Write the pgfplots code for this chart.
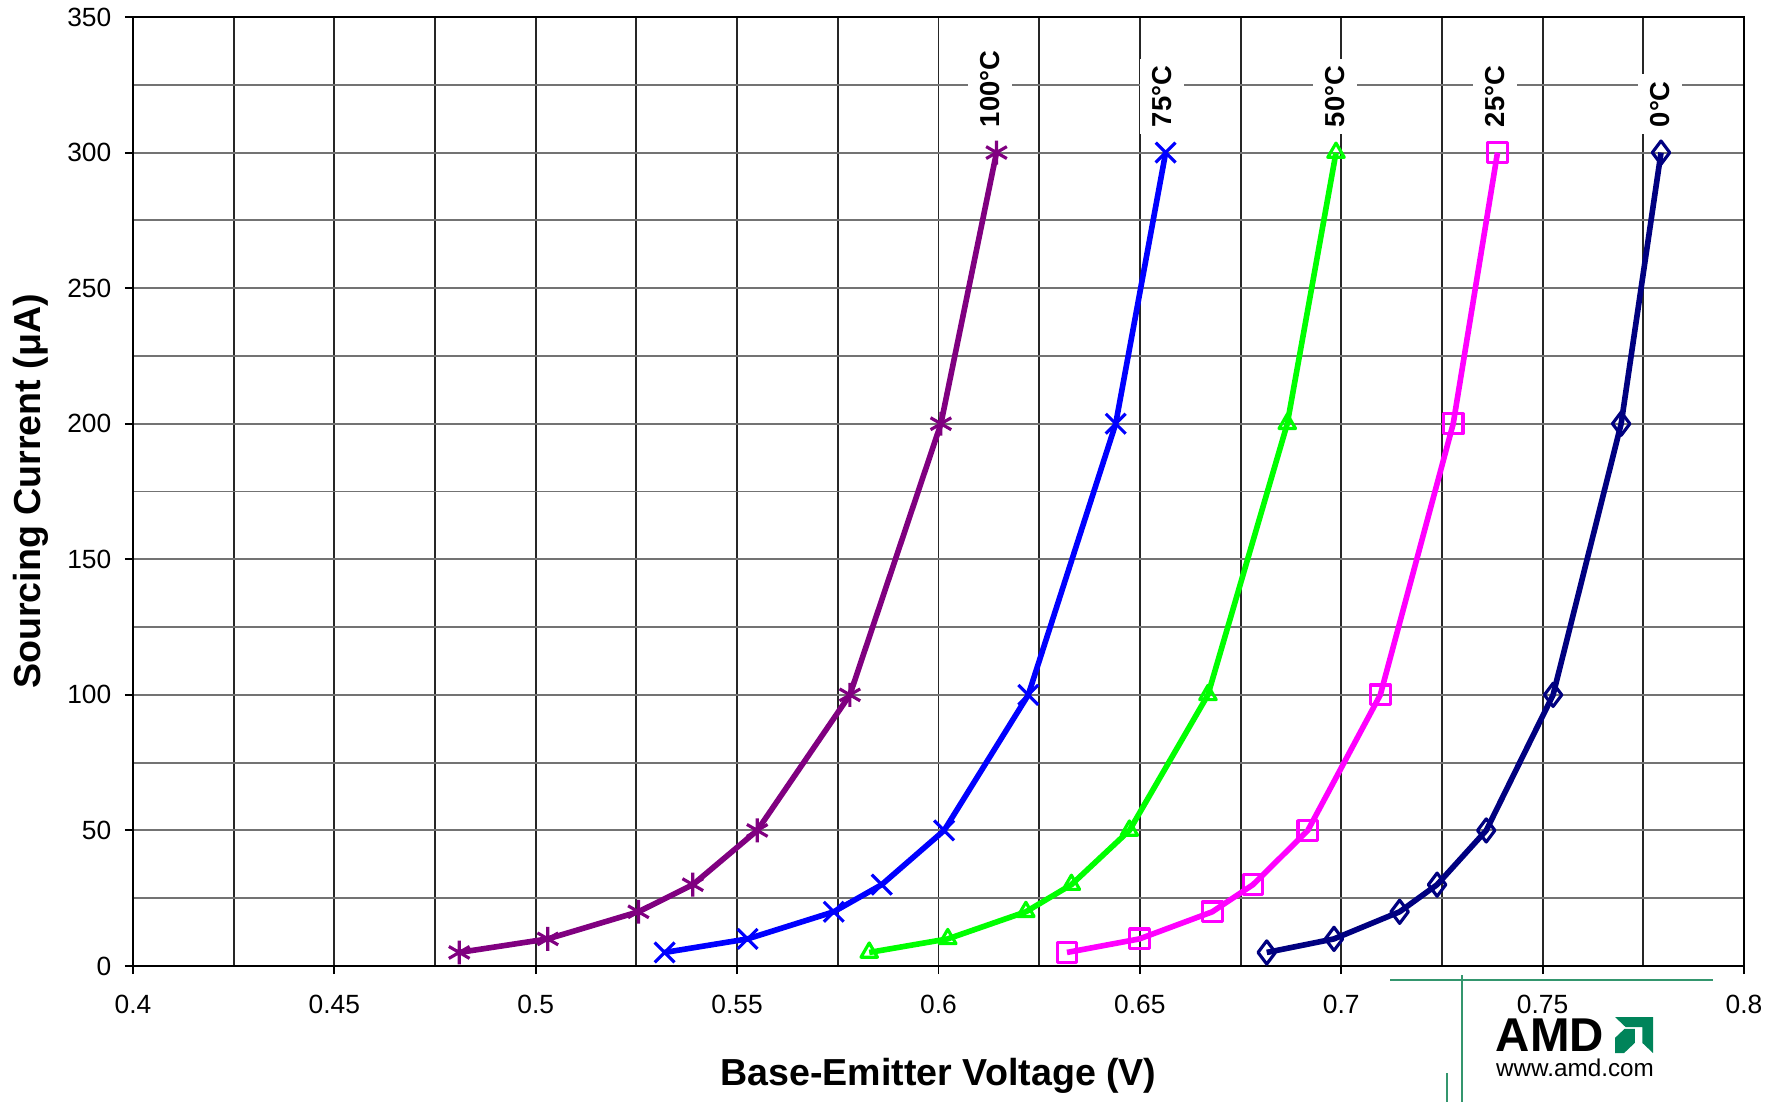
\documentclass[border=0pt]{standalone}
\usepackage{fontspec}
\setmainfont{Liberation Sans}
\usepackage{pgfplots}
\pgfplotsset{compat=1.18}

\definecolor{c100}{RGB}{128,0,128}
\definecolor{c75}{RGB}{0,0,255}
\definecolor{c50}{RGB}{0,255,0}
\definecolor{c25}{RGB}{255,0,255}
\definecolor{c0}{RGB}{0,0,128}
\definecolor{amdgreen}{RGB}{0,132,90}
\definecolor{rulegreen}{RGB}{52,150,110}

\tikzset{templabel/.style={rotate=90, anchor=west, fill=white, inner xsep=2pt, inner ysep=3.5pt,
  font=\fontsize{7.8}{9}\selectfont\bfseries}}

\begin{document}
\begin{tikzpicture}
\useasboundingbox (-1.33,-1.36) rectangle (16.48,9.66);
\begin{axis}[
    at={(0,0)}, anchor=south west,
    scale only axis,
    width=16.11cm, height=9.49cm,
    xmin=0.4, xmax=0.8, ymin=0, ymax=350,
    xtick={0.4,0.45,0.5,0.55,0.6,0.65,0.7,0.75,0.8},
    xticklabels={0.4,0.45,0.5,0.55,0.6,0.65,0.7,0.75,0.8},
    ytick={0,50,100,150,200,250,300,350},
    yticklabels={0,50,100,150,200,250,300,350},
    minor x tick num=1, minor y tick num=1,
    grid=both,
    every major grid/.style={line width=0.55pt},
    every minor grid/.style={line width=0.55pt},
    every axis x grid/.style={black!85},
    every axis y grid/.style={black!55},
    tick align=outside, tick pos=left,
    major tick length=0.08cm, minor tick length=0pt,
    every tick/.style={black, line width=0.55pt},
    axis line style={black, line width=0.6pt},
    tick label style={font=\fontsize{7.5}{9}\selectfont},
    xticklabel style={anchor=center, yshift=-0.30cm},
    yticklabel style={anchor=east, inner sep=0pt, xshift=-0.13cm},
    xlabel={Base-Emitter Voltage (V)},
    ylabel={Sourcing Current (μA)},
    every axis x label/.style={at={(axis description cs:0.5,-0.1159)}, anchor=center,
      font=\fontsize{10.7}{12}\selectfont\bfseries},
    every axis y label/.style={at={(axis description cs:-0.0633,0.5)}, anchor=center, rotate=90,
      font=\fontsize{10.7}{12}\selectfont\bfseries},
    every axis plot/.append style={line width=1.6pt, line join=round},
]
% 100 C
\addplot[color=c100, mark=asterisk, mark size=3.4pt, mark options={solid, line width=0.9pt}] coordinates {
    (0.481,5) (0.503,10) (0.5255,20) (0.539,30) (0.555,50) (0.578,100) (0.6006,200) (0.6144,300)
};
% 75 C
\addplot[color=c75, mark=x, mark size=4pt, mark options={solid, line width=0.9pt}] coordinates {
    (0.532,5) (0.5526,10) (0.574,20) (0.5859,30) (0.6014,50) (0.6223,100) (0.644,200) (0.6564,300)
};
% 50 C
\addplot[color=c50, mark=triangle, mark size=2.7pt, mark options={solid, line width=0.9pt}] coordinates {
    (0.5828,5) (0.6023,10) (0.6217,20) (0.633,30) (0.6474,50) (0.6669,100) (0.6866,200) (0.6987,300)
};
% 25 C
\addplot[color=c25, mark=square, mark size=2.8pt, mark options={solid, line width=0.9pt}] coordinates {
    (0.6319,5) (0.6499,10) (0.668,20) (0.6781,30) (0.6917,50) (0.7097,100) (0.7278,200) (0.7388,300)
};
% 0 C
\addplot[color=c0, mark=diamond, mark size=3.3pt, mark options={solid, line width=0.9pt}] coordinates {
    (0.6815,5) (0.6982,10) (0.7145,20) (0.7238,30) (0.736,50) (0.7526,100) (0.7695,200) (0.7794,300)
};

\node[templabel] at (axis cs:0.6128,306.5) {100°C};
\node[templabel] at (axis cs:0.6555,306.5) {75°C};
\node[templabel] at (axis cs:0.6984,306.5) {50°C};
\node[templabel] at (axis cs:0.7382,306.5) {25°C};
\node[templabel] at (axis cs:0.7791,306.5) {0°C};
\end{axis}

% AMD logo and rules
\draw[rulegreen, line width=0.5pt] (12.57,-0.14) -- (15.80,-0.14);
\draw[rulegreen, line width=0.5pt] (13.29,-0.09) -- (13.29,-1.36);
\draw[rulegreen, line width=0.5pt] (13.14,-1.07) -- (13.14,-1.36);
\node[font=\fontsize{13.5}{14}\selectfont\bfseries, inner sep=0pt] at (14.17,-0.69) {AMD};
\node[font=\fontsize{6.9}{8}\selectfont, inner sep=0pt] at (14.42,-1.02) {www.amd.com};
\begin{scope}[shift={(14.82,-0.87)}, x=0.38cm, y=0.36cm]
  \fill[amdgreen] (0,1) -- (1,1) -- (1,0) -- (0.72,0.28) -- (0.72,0.72) -- (0.28,0.72) -- cycle;
  \fill[amdgreen] (0,0) -- (0,0.42) -- (0.25,0.67) -- (0.52,0.67) -- (0.52,0.28) -- (0.24,0) -- cycle;
\end{scope}
\end{tikzpicture}
\end{document}
